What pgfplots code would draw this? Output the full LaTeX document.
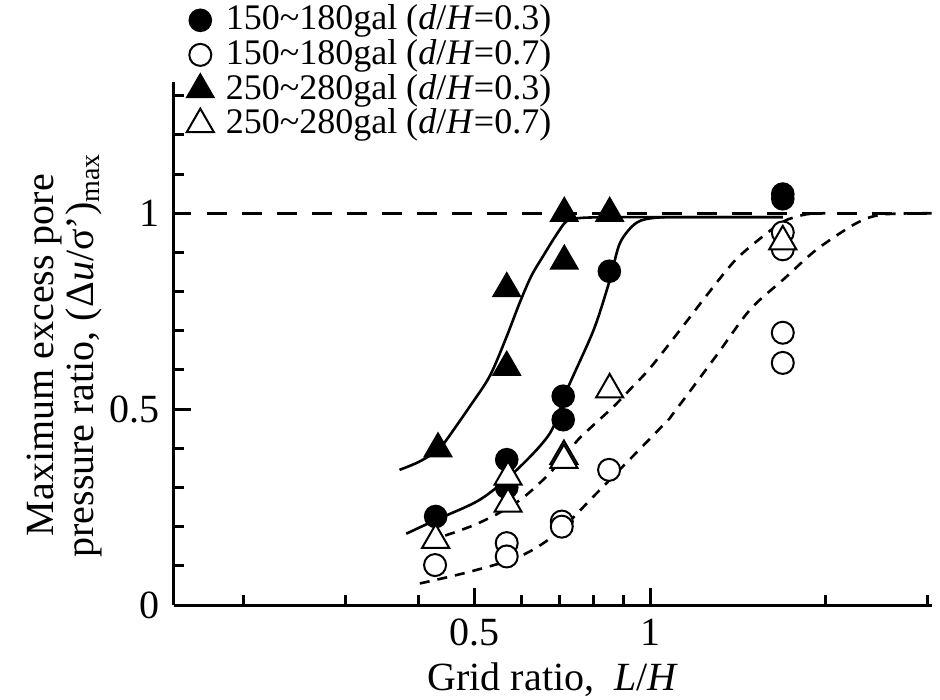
\documentclass[border=0pt]{standalone}
\usepackage{fontspec}
\setmainfont{Liberation Serif}
\usepackage{pgfplots}
\pgfplotsset{compat=1.18}

\begin{document}
\fontsize{10}{10}\selectfont
\begin{tikzpicture}
\begin{axis}[
    scale only axis,
    width=189.5pt, height=130.75pt,
    xmode=log,
    xmin=0.152, xmax=3.05,
    ymin=0, ymax=1.335,
    axis x line*=bottom, axis y line*=left,
    axis line style={line width=0.75pt},
    tick align=inside,
    major tick length=4.25pt, minor tick length=2.5pt,
    tick style={line width=0.75pt, black},
    xtick={0.5,1}, xticklabels={0.5,1},
    minor xtick={0.2,0.3,0.4,0.6,0.7,0.8,0.9,2,3},
    ytick={0,0.5,1}, yticklabels={0,0.5,1},
    minor ytick={0.1,0.2,0.3,0.4,0.6,0.7,0.8,0.9,1.1,1.2,1.3},
    tick label style={font=\fontsize{10}{10}\selectfont},
    xlabel={Grid ratio,\ \ \textit{L}/\textit{H}},
    xlabel style={at={(axis description cs:0.5,0)}, anchor=base, yshift=-21.25pt},
    ylabel={Maximum excess pore\\pressure ratio, (Δ\textit{u}/σ')\textsubscript{max}},
    ylabel style={align=center, at={(axis description cs:-0.145,0.478)}, anchor=center},
    clip=false,
    legend cell align=left,
    legend style={draw=none, fill=none, at={(rel axis cs:0,1)}, anchor=north west,
        xshift=3pt, yshift=19.5pt, inner sep=0pt, row sep=0.9pt, column sep=3pt,
        font=\fontsize{9}{9}\selectfont, nodes={inner sep=0pt}},
    legend image code/.code={\draw[mark repeat=2,mark phase=2,#1] plot coordinates {(-4pt,0pt)(0pt,0pt)(4pt,0pt)};},
]
% fitted curves
\addplot[forget plot, black, line width=0.65pt, dash pattern=on 5pt off 3.75pt] coordinates {(0.173,1)(3.05,1)};
\addplot[forget plot, black, line width=0.65pt, smooth, tension=0.5] coordinates {
    (0.371,0.345)(0.40,0.365)(0.432,0.395)(0.447,0.422)(0.49,0.507)(0.53,0.584)(0.565,0.68)
    (0.597,0.772)(0.625,0.84)(0.655,0.891)(0.69,0.945)(0.719,0.98)(0.76,0.988)(0.85,0.99)(1.0,0.99)(1.69,0.99)};
\addplot[forget plot, black, line width=0.65pt, smooth, tension=0.5] coordinates {
    (0.381,0.182)(0.428,0.217)(0.51,0.269)(0.59,0.345)(0.673,0.439)(0.72,0.55)(0.8,0.703)
    (0.853,0.831)(0.888,0.925)(0.948,0.976)(1.03,0.989)(1.2,0.99)(1.69,0.99)};
\addplot[forget plot, black, line width=0.65pt, smooth, tension=0.5, dash pattern=on 2.5pt off 2pt] coordinates {
    (0.415,0.165)(0.45,0.18)(0.5,0.205)(0.55,0.235)(0.6,0.27)(0.65,0.315)(0.7,0.365)(0.75,0.42)
    (0.8,0.46)(0.866,0.507)(0.93,0.555)(1.0,0.605)(1.127,0.703)(1.25,0.79)(1.4,0.88)(1.565,0.942)
    (1.7,0.98)(1.85,0.997)(2.0,1.0)};
\addplot[forget plot, black, line width=0.65pt, smooth, tension=0.5, dash pattern=on 2.5pt off 2pt] coordinates {
    (0.402,0.055)(0.49,0.085)(0.597,0.124)(0.691,0.183)(0.81,0.286)(1.054,0.46)(1.097,0.49)
    (1.3,0.637)(1.485,0.754)(1.7,0.833)(1.935,0.908)(2.27,0.976)(2.52,0.997)(3.05,1.0)};

% measured points
\addplot[only marks, mark=*, mark size=2.75pt, mark options={fill=black, draw=black}] coordinates {
    (0.428,0.226)(0.567,0.371)(0.567,0.300)(0.709,0.533)(0.709,0.473)(0.851,0.852)(1.69,1.049)(1.69,1.037)};
\addlegendentry{150\textasciitilde180gal (\textit{d}/\textit{H}=0.3)}
\addplot[only marks, mark=*, mark size=2.75pt, mark options={fill=white, draw=black, line width=0.5pt}] coordinates {
    (0.427,0.102)(0.567,0.158)(0.567,0.124)(0.705,0.213)(0.705,0.200)(0.85,0.345)
    (1.69,0.951)(1.69,0.908)(1.69,0.695)(1.69,0.618)};
\addlegendentry{150\textasciitilde180gal (\textit{d}/\textit{H}=0.7)}
\addplot[only marks, mark=triangle*, mark size=3.9pt, mark options={fill=black, draw=black}] coordinates {
    (0.432,0.399)(0.567,0.808)(0.567,0.607)(0.712,0.878)(0.712,1.0)(0.852,1.0)};
\addlegendentry{250\textasciitilde280gal (\textit{d}/\textit{H}=0.3)}
\addplot[only marks, mark=triangle*, mark size=3.9pt, mark options={fill=white, draw=black, line width=0.5pt}] coordinates {
    (0.428,0.166)(0.57,0.327)(0.57,0.258)(0.711,0.38)(0.711,0.37)(0.852,0.55)(1.69,0.928)};
\addlegendentry{250\textasciitilde280gal (\textit{d}/\textit{H}=0.7)}

\coordinate (sw) at (rel axis cs:0,0);
\end{axis}
\pgfresetboundingbox
\path[use as bounding box] ([shift={(-43.5pt,-23.5pt)}]sw) rectangle ([shift={(191.5pt,151.25pt)}]sw);
\end{tikzpicture}
\end{document}
